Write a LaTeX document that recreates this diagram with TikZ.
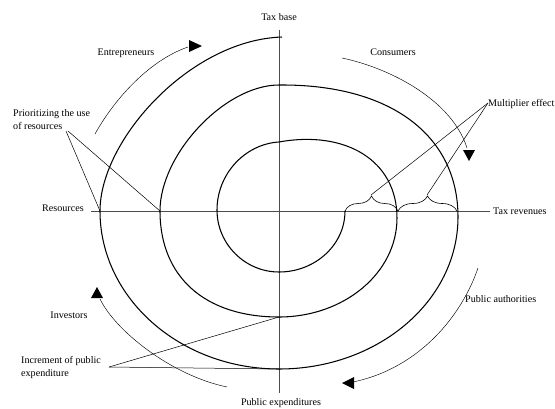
\documentclass[tikz,border=0pt]{standalone}
\usepackage{fontspec}
\setmainfont{Liberation Serif}
\usetikzlibrary{decorations.pathreplacing}
\begin{document}
\begin{tikzpicture}[x=1pt,y=-1pt,
  axis/.style={draw=black!70, line width=0.6pt},
  spiral/.style={draw=black, line width=1.05pt},
  flow/.style={draw=black, line width=0.45pt},
  tip/.style={fill=black, draw=none},
  leader/.style={draw=black, line width=0.5pt},
  lbl/.style={inner sep=0pt, font=\fontsize{10.1}{13}\selectfont, text=black},
  bracestyle/.style={draw=black, line width=0.6pt, decorate,
    decoration={brace, amplitude=15pt}}]
\useasboundingbox (0,0) rectangle (555,408);

% axes
\coordinate (ytop) at (279,30);
\coordinate (ybot) at (279,393);
\coordinate (xleft) at (91,211);
\coordinate (xright) at (490,211);
\draw[axis] (ytop) -- (ybot);
\draw[axis] (xleft) -- (xright);

% axis labels
\node[lbl] (taxbase) at (279,17) {Tax base};
\node[lbl] (pubexp) at (281,403) {Public expenditures};
\node[lbl] (resources) at (63,208) {Resources};
\node[lbl, anchor=west] (taxrev) at (493,211) {Tax revenues};

% the spiral, built from quarter arcs around the origin of the axes
\draw[spiral] (345,211)
  .. controls (345,245) and (315,272) .. (279,272)
  .. controls (245,272) and (217,244) .. (217,210)
  .. controls (217,174) and (245,144) .. (279,142)
  .. controls (345,130) and (397,160) .. (397,218)
  .. controls (397,273) and (344,317) .. (279,317)
  .. controls (205,317) and (160,277) .. (160,211)
  .. controls (160,154) and (225,85) .. (279,85)
  .. controls (390,84) and (458,135) .. (458,217)
  .. controls (458,301) and (378,369) .. (279,369)
  .. controls (180,369) and (100,298) .. (100,211)
  .. controls (100,140) and (190,40) .. (282,37);

% points on the spiral
\coordinate (s1) at (345,211);
\coordinate (s2) at (398,211);
\coordinate (s3) at (457,211);
\coordinate (outl) at (100,211);
\coordinate (midl) at (160,211);
\coordinate (midb) at (279,317);
\coordinate (outb) at (279,369);

% braces between successive turns
\draw[bracestyle] (s1) -- (s2);
\draw[bracestyle] (s2) -- (s3);
\coordinate (b1) at (371,195);
\coordinate (b2) at (427,195);

% multiplier effect
\node[lbl, anchor=west] (mult) at (488,104) {Multiplier effect};
\coordinate (multend) at (488,103);
\draw[leader] (multend) -- (b1);
\draw[leader] (multend) -- (b2);

% prioritizing the use of resources
\node[lbl, align=left, anchor=north west] (prio) at (13,109) {Prioritizing the use\\of resources};
\coordinate (prioA) at (66,131);
\coordinate (prioB) at (68,131);
\draw[leader] (prioA) -- (outl);
\draw[leader] (prioB) -- (midl);

% increment of public expenditure
\node[lbl, align=left, anchor=north west] (incr) at (21,356) {Increment of public\\expenditure};
\coordinate (incrend) at (109,367);
\draw[leader] (incrend) -- (midb);
\draw[leader] (incrend) -- (outb);

% actors with their flow arrows
\node[lbl] (entre) at (126,53) {Entrepreneurs};
\coordinate (e0) at (95,134);
\coordinate (e1) at (188,47);
\draw[flow] (e0) .. controls (115,98) and (150,60) .. (e1);
\fill[tip] (189,40) -- (202,46) -- (189,52) -- cycle;

\node[lbl] (cons) at (393,52) {Consumers};
\coordinate (c0) at (342,58);
\coordinate (c1) at (467,148);
\draw[flow] (c0) .. controls (390,68) and (452,100) .. (c1);
\fill[tip] (463,150) -- (475,150) -- (469,161) -- cycle;

\node[lbl, anchor=west] (auth) at (465,299) {Public authorities};
\coordinate (a0) at (478,268);
\coordinate (a1) at (353,382);
\draw[flow] (a0) .. controls (462,315) and (420,368) .. (a1);
\fill[tip] (342,383) -- (354,377) -- (354,389) -- cycle;

\node[lbl] (inv) at (69,315) {Investors};
\coordinate (i0) at (227,387);
\coordinate (i1) at (100,299);
\draw[flow] (i0) .. controls (170,375) and (115,330) .. (i1);
\fill[tip] (97,287) -- (91,298) -- (103,298) -- cycle;
\end{tikzpicture}
\end{document}
